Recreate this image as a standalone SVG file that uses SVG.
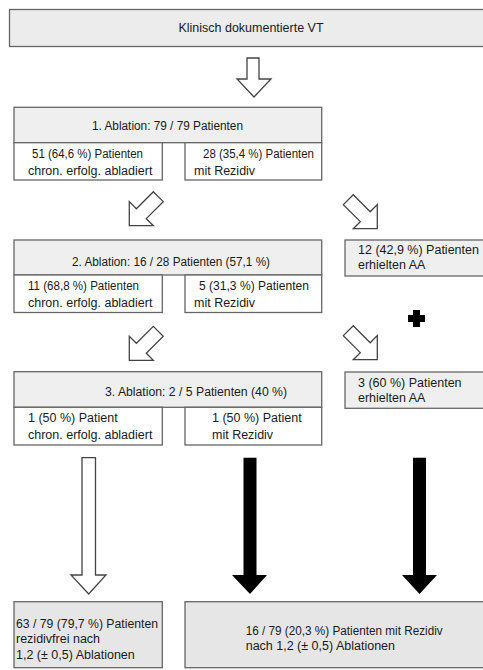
<svg xmlns="http://www.w3.org/2000/svg" xmlns:xlink="http://www.w3.org/1999/xlink" width="483" height="670" viewBox="0 0 483 670">
<style>
.hdr{fill:#efefef;stroke:#666;stroke-width:1.3}
.sub{fill:#fff;stroke:#666;stroke-width:1.3}
.fin{fill:#e6e6e6;stroke:#666;stroke-width:1.3}
.t{font-family:"Liberation Sans",Arial,sans-serif;font-size:12.5px;fill:#1a1a1a}
.m{text-anchor:middle}
.wa{fill:#fff;stroke:#444;stroke-width:1.3;stroke-linejoin:miter}
.ba{fill:#000}
</style>
<defs>
<path id="diag" d="M-7,-41 L7,-41 L7,-17 L17,-17 L0,0 L-17,-17 L-7,-17 Z"/>
</defs>
<rect width="483" height="670" fill="#fff"/>

<g id="n-top">
<rect class="hdr" x="9.5" y="9.5" width="480" height="37" style="fill:#ececec"/>
<text class="t m" x="251" y="31.5">Klinisch dokumentierte VT</text>
</g>

<g id="n-abl1">
<rect class="hdr" x="14" y="107.3" width="307.7" height="35.4"/>
<text class="t" x="92" y="129.5" textLength="151" lengthAdjust="spacingAndGlyphs">1. Ablation: 79 / 79 Patienten</text>
<rect class="sub" x="14" y="142.7" width="148.3" height="37.3"/>
<text class="t" x="32" y="157.5" textLength="111" lengthAdjust="spacingAndGlyphs">51 (64,6 %) Patienten</text>
<text class="t" x="28" y="174.5">chron. erfolg. abladiert</text>
<rect class="sub" x="185" y="142.7" width="136.7" height="37.3"/>
<text class="t" x="203" y="157.5" textLength="111" lengthAdjust="spacingAndGlyphs">28 (35,4 %) Patienten</text>
<text class="t" x="194" y="174.5">mit Rezidiv</text>
</g>

<g id="n-abl2">
<rect class="hdr" x="14" y="240" width="307.7" height="35"/>
<text class="t" x="72" y="265.5" textLength="198" lengthAdjust="spacingAndGlyphs">2. Ablation: 16 / 28 Patienten (57,1 %)</text>
<rect class="sub" x="14" y="275" width="148.3" height="37.5"/>
<text class="t" x="28" y="290" textLength="111" lengthAdjust="spacingAndGlyphs">11 (68,8 %) Patienten</text>
<text class="t" x="28" y="307">chron. erfolg. abladiert</text>
<rect class="sub" x="185" y="275" width="136.7" height="37.5"/>
<text class="t" x="199" y="290" textLength="110" lengthAdjust="spacingAndGlyphs">5 (31,3 %) Patienten</text>
<text class="t" x="194" y="307">mit Rezidiv</text>
</g>

<g id="n-aa1">
<rect class="hdr" x="345" y="240" width="145" height="36"/>
<text class="t" x="358" y="253.5">12 (42,9 %) Patienten</text>
<text class="t" x="358" y="268.5">erhielten AA</text>
</g>

<g id="n-abl3">
<rect class="hdr" x="14" y="371.7" width="307.7" height="35.6"/>
<text class="t" x="105" y="396" textLength="182" lengthAdjust="spacingAndGlyphs">3. Ablation: 2 / 5 Patienten (40 %)</text>
<rect class="sub" x="14" y="407.3" width="148.3" height="37.7"/>
<text class="t" x="28" y="422">1 (50 %) Patient</text>
<text class="t" x="28" y="439">chron. erfolg. abladiert</text>
<rect class="sub" x="185" y="407.3" width="136.7" height="37.7"/>
<text class="t" x="212" y="422">1 (50 %) Patient</text>
<text class="t" x="212" y="439">mit Rezidiv</text>
</g>

<g id="n-aa2">
<rect class="hdr" x="345" y="372" width="145" height="36.3"/>
<text class="t" x="358" y="386.5">3 (60 %) Patienten</text>
<text class="t" x="358" y="401.5">erhielten AA</text>
</g>

<g id="n-plus">
<path class="ba" d="M413,310 h7 v5 h5 v7 h-5 v5 h-7 v-5 h-5 v-7 h5 Z"/>
</g>

<g id="n-free">
<rect class="fin" x="14" y="601.7" width="148.3" height="66"/>
<text class="t" x="16" y="628" textLength="142" lengthAdjust="spacingAndGlyphs">63 / 79 (79,7 %) Patienten</text>
<text class="t" x="16" y="643">rezidivfrei nach</text>
<text class="t" x="16" y="658.5">1,2 (± 0,5) Ablationen</text>
</g>

<g id="n-rez">
<rect class="fin" x="185" y="601.7" width="305" height="66"/>
<text class="t" x="245.7" y="635" textLength="197" lengthAdjust="spacingAndGlyphs">16 / 79 (20,3 %) Patienten mit Rezidiv</text>
<text class="t" x="245.7" y="650">nach 1,2 (± 0,5) Ablationen</text>
</g>

<g id="connectors">
<path class="wa" d="M247,58 H259 V79 H271 L254,97 L237,79 H247 Z"/>
<use xlink:href="#diag" class="wa" transform="translate(129.3,225.7) rotate(45)"/>
<use xlink:href="#diag" class="wa" transform="translate(377.3,228.7) rotate(-45)"/>
<use xlink:href="#diag" class="wa" transform="translate(129.3,360.3) rotate(45)"/>
<use xlink:href="#diag" class="wa" transform="translate(377.3,359.7) rotate(-45)"/>
<path class="wa" d="M82,457.7 H95.5 V575 H106 L88.7,594 L71,575 H82 Z"/>
<path class="ba" d="M243.5,457.7 H256.5 V575 H267 L250,594 L232,575 H243.5 Z"/>
<path class="ba" d="M413,457.7 H426 V575 H437 L419.5,594 L402,575 H413 Z"/>
</g>
</svg>
